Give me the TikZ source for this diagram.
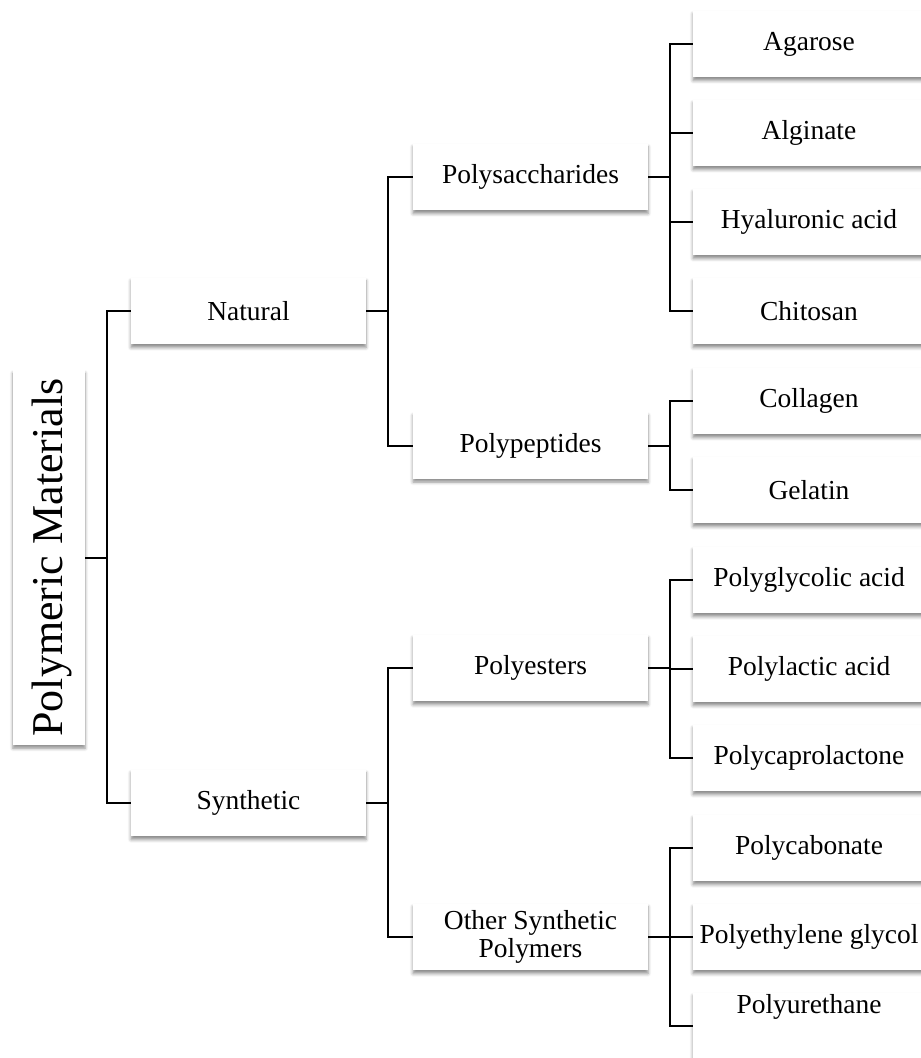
\documentclass[tikz,border=0pt]{standalone}
\usepackage{fontspec}
\setmainfont{Liberation Serif}
\usetikzlibrary{shadows.blur}

\tikzset{
  box/.style={fill=white, draw=none, inner sep=0pt, align=center,
    font=\fontsize{20.6}{21.5}\selectfont,
    blur shadow={shadow xshift=0pt, shadow yshift=-2.4pt,
                 shadow blur radius=2.4pt, shadow opacity=45}},
  leafbox/.style={box, minimum width=174pt, minimum height=50pt},
  midbox/.style={box, minimum width=176.25pt, minimum height=50pt},
  rootbox/.style={box, minimum width=54pt, minimum height=281.25pt},
  link/.style={draw=black, line width=1.5pt},
}

\begin{document}
\begin{tikzpicture}[x=0.75pt, y=-0.75pt]
\useasboundingbox (0,0) rectangle (921,1058);
\clip (0,0) rectangle (921,1058);

% root
\node[rootbox] (root) at (49,557.5) {};
\node[rotate=90, inner sep=0pt, font=\fontsize{33}{36}\selectfont] (roottxt) at (52,557.5) {Polymeric Materials};

% first level
\node[midbox] (nat) at (248.5,311) {Natural};
\node[midbox] (syn) at (248.5,803) {Synthetic};

% second level
\node[midbox] (psac) at (530.5,177) {Polysaccharides};
\node[midbox] (ppep) at (530.5,445.5) {Polypeptides};
\node[midbox] (pest) at (530.5,668) {Polyesters};
\node[midbox] (poth) at (530.5,937) {Other Synthetic\\Polymers};

% leaves
\node[leafbox] (agar) at (809,44) {Agarose};
\node[leafbox] (algi) at (809,133) {Alginate};
\node[leafbox] (hyal) at (809,222) {Hyaluronic acid};
\node[leafbox] (chit) at (809,311) {Chitosan};
\node[leafbox] (coll) at (809,401) {Collagen};
\node[leafbox] (gela) at (809,490) {Gelatin};
\node[leafbox] (pgly) at (809,580) {Polyglycolic acid};
\node[leafbox] (plac) at (809,669) {Polylactic acid};
\node[leafbox] (pcap) at (809,758) {Polycaprolactone};
\node[leafbox] (pcab) at (809,848) {Polycabonate};
\node[leafbox] (peg) at (809,937) {Polyethylene glycol};
\node[leafbox] (pur) at (809,1026) {};
\node[inner sep=0pt, font=\fontsize{20.6}{21.5}\selectfont] (purtxt) at (809,1007) {Polyurethane};

% branch points
\coordinate (j0) at (107,557.5);
\coordinate (j1) at (388,311);
\coordinate (j2) at (388,803);
\coordinate (k1) at (670,177);
\coordinate (k2) at (670,445.5);
\coordinate (k3) at (670,668);
\coordinate (k4) at (670,937);

% connectors
\draw[link] (root.east) -- (j0);
\draw[link] (j0) |- (nat.west);
\draw[link] (j0) |- (syn.west);

\draw[link] (nat.east) -- (j1);
\draw[link] (j1) |- (psac.west);
\draw[link] (j1) |- (ppep.west);
\draw[link] (syn.east) -- (j2);
\draw[link] (j2) |- (pest.west);
\draw[link] (j2) |- (poth.west);

\draw[link] (psac.east) -- (k1);
\foreach \n in {agar,algi,hyal,chit} \draw[link] (k1) |- (\n.west);
\draw[link] (ppep.east) -- (k2);
\foreach \n in {coll,gela} \draw[link] (k2) |- (\n.west);
\draw[link] (pest.east) -- (k3);
\foreach \n in {pgly,plac,pcap} \draw[link] (k3) |- (\n.west);
\draw[link] (poth.east) -- (k4);
\foreach \n in {pcab,peg,pur} \draw[link] (k4) |- (\n.west);
\end{tikzpicture}
\end{document}
